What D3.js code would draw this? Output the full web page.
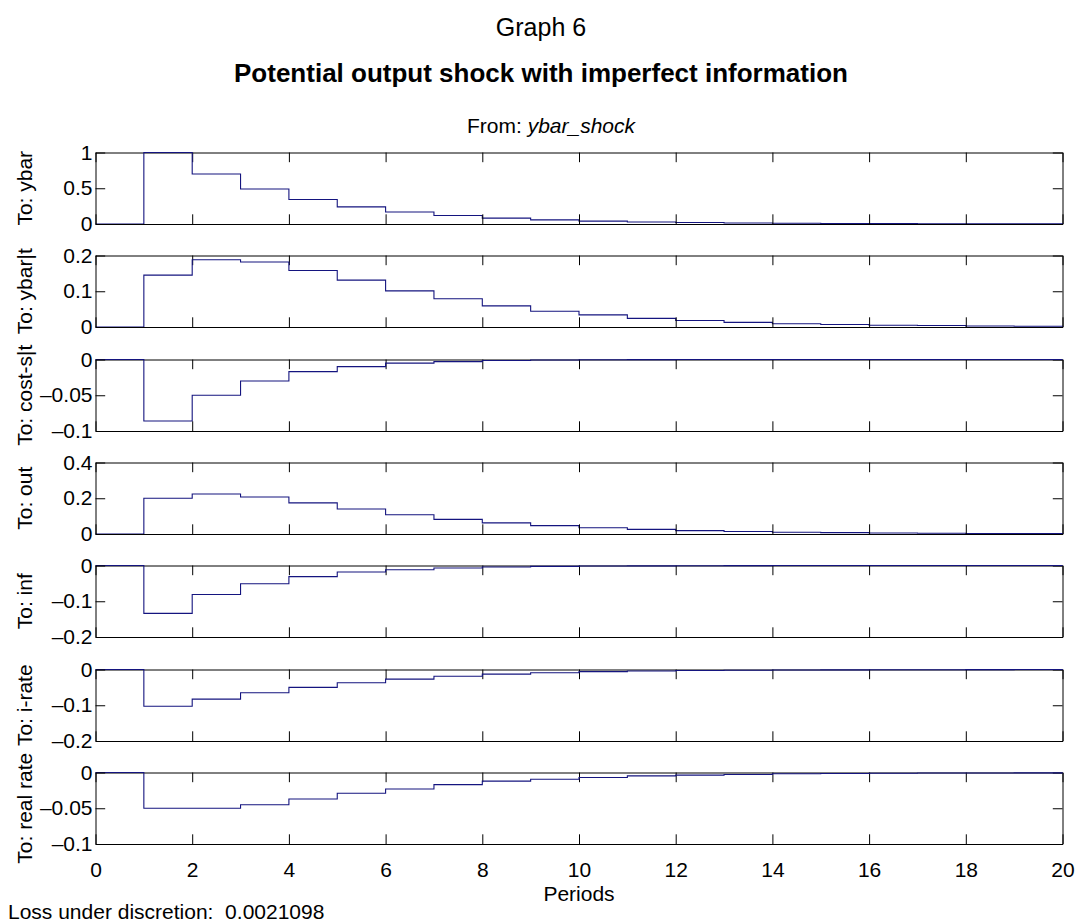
<!DOCTYPE html>
<html>
<head>
<meta charset="utf-8">
<script src="https://cdn.jsdelivr.net/npm/d3@7"></script>
<style>
  html, body { margin: 0; padding: 0; background: #fff; }
  svg { display: block; font-family: Arial, "Liberation Sans", Helvetica, sans-serif; }
</style>
</head>
<body>
<svg id="chart" width="1077" height="922"></svg>
<script>
// Impulse responses to a potential-output shock, periods 0..20
const periods = [0, 1, 2, 3, 4, 5, 6, 7, 8, 9, 10, 11, 12, 13, 14, 15, 16, 17, 18, 19, 20];

const ybar     = [0, 1.000, 0.700, 0.490, 0.343, 0.240, 0.168, 0.118, 0.082, 0.058, 0.040, 0.028, 0.020, 0.014, 0.010, 0.007, 0.005, 0.003, 0.002, 0.002, 0.001];
const ybarT    = [0, 0.145, 0.188, 0.182, 0.158, 0.131, 0.101, 0.079, 0.059, 0.044, 0.034, 0.024, 0.018, 0.013, 0.009, 0.007, 0.005, 0.004, 0.003, 0.002, 0.001];
const costS    = [0, -0.086, -0.050, -0.030, -0.017, -0.010, -0.005, -0.003, -0.0015, -0.0008, -0.0004, -0.0002, -0.0001, 0, 0, 0, 0, 0, 0, 0, 0];
const outGap   = [0, 0.200, 0.224, 0.207, 0.174, 0.140, 0.108, 0.082, 0.062, 0.047, 0.035, 0.026, 0.019, 0.014, 0.010, 0.0075, 0.0055, 0.004, 0.003, 0.002, 0.0015];
const inflation= [0, -0.134, -0.081, -0.051, -0.031, -0.018, -0.012, -0.007, -0.004, -0.0025, -0.0015, -0.001, -0.0006, -0.0003, -0.0002, -0.0001, 0, 0, 0, 0, 0];
const iRate    = [0, -0.103, -0.083, -0.065, -0.050, -0.037, -0.027, -0.019, -0.013, -0.009, -0.006, -0.004, -0.003, -0.002, -0.0013, -0.001, -0.0007, -0.0005, -0.0003, -0.0002, -0.0001];
const realRate = [0, -0.050, -0.050, -0.045, -0.037, -0.029, -0.023, -0.017, -0.012, -0.0095, -0.007, -0.0047, -0.0037, -0.0028, -0.0018, -0.0013, -0.001, -0.0008, -0.0006, -0.0005, -0.0004];

const panelNames  = ["To: ybar", "To: ybar|t", "To: cost-s|t", "To: out", "To: inf", "To: i-rate", "To: real rate"];
const panelSeries = [ybar, ybarT, costS, outGap, inflation, iRate, realRate];
const panelDomains = [[0, 1], [0, 0.2], [-0.1, 0], [0, 0.4], [-0.2, 0], [-0.2, 0], [-0.1, 0]];
const panelTicks  = [[0, 0.5, 1], [0, 0.1, 0.2], [-0.1, -0.05, 0], [0, 0.2, 0.4], [-0.2, -0.1, 0], [-0.2, -0.1, 0], [-0.1, -0.05, 0]];
const xTicks = [0, 2, 4, 6, 8, 10, 12, 14, 16, 18, 20];

const figTitle = "Graph 6";
const mainTitle = "Potential output shock with imperfect information";
const fromLabel = "ybar_shock";
const xLabel = "Periods";
const lossText = "Loss under discretion:  0.0021098";

// Layout
const svg = d3.select("#chart");
const left = 95.5, right = 1062.5;
const firstTop = 152, step = 103.33, panelH = 71.5;
const tickLen = 9.7;
const lineColor = "#14147f";
const fontSize = 21;

const x = d3.scaleLinear().domain([0, 20]).range([left, right]);
const fmt = v => {
  const s = (Math.abs(v) < 1e-12) ? "0" : String(+v.toFixed(4));
  return s.replace("-", "\u2013");
};

// Titles
svg.append("text").attr("x", 541).attr("y", 36).attr("text-anchor", "middle")
  .attr("font-size", 25).text(figTitle);
svg.append("text").attr("x", 541).attr("y", 82).attr("text-anchor", "middle")
  .attr("font-size", 26).attr("font-weight", "bold").text(mainTitle);
const fromT = svg.append("text").attr("x", 551).attr("y", 133)
  .attr("text-anchor", "middle").attr("font-size", fontSize);
fromT.append("tspan").text("From: ");
fromT.append("tspan").attr("font-style", "italic").text(fromLabel);

const stair = d3.line().curve(d3.curveStepAfter);

panelSeries.forEach((vals, i) => {
  const top = Math.round(firstTop + i * step) + 0.5;
  const bottom = top + panelH;
  const y = d3.scaleLinear().domain(panelDomains[i]).range([bottom, top]);
  const g = svg.append("g");
  const isLast = i === panelSeries.length - 1;

  // axes: ticks point inward on all four sides
  const styleAxis = sel => {
    sel.selectAll("path.domain").attr("stroke", "#000").attr("stroke-width", 1);
    sel.selectAll(".tick line").attr("stroke", "#000").attr("stroke-width", 1);
    sel.selectAll(".tick text").attr("font-size", fontSize)
      .attr("font-family", "Arial, 'Liberation Sans', sans-serif").attr("fill", "#000");
  };

  g.append("g").attr("transform", `translate(0,${top})`)
    .call(d3.axisTop(x).tickValues(xTicks).tickSizeInner(-tickLen).tickSizeOuter(0).tickFormat(""))
    .call(styleAxis);
  g.append("g").attr("transform", `translate(${right},0)`)
    .call(d3.axisRight(y).tickValues(panelTicks[i]).tickSizeInner(-tickLen).tickSizeOuter(0).tickFormat(""))
    .call(styleAxis);

  // data line
  g.append("path")
    .datum(periods.map((p, k) => [x(p), y(vals[k])]))
    .attr("d", stair)
    .attr("fill", "none")
    .attr("stroke", lineColor)
    .attr("stroke-width", 1.1);

  const xb = g.append("g").attr("transform", `translate(0,${bottom})`)
    .call(d3.axisBottom(x).tickValues(xTicks).tickSizeInner(-tickLen).tickSizeOuter(0)
      .tickPadding(18).tickFormat(isLast ? d3.format("d") : ""))
    .call(styleAxis);
  xb.selectAll(".tick text").attr("dy", "0.71em");

  g.append("g").attr("transform", `translate(${left},0)`)
    .call(d3.axisLeft(y).tickValues(panelTicks[i]).tickSizeInner(-tickLen).tickSizeOuter(0)
      .tickPadding(3).tickFormat(fmt))
    .call(styleAxis);

  g.append("text")
    .attr("transform", `translate(32,${(top + bottom) / 2}) rotate(-90)`)
    .attr("text-anchor", "middle").attr("font-size", fontSize)
    .text(panelNames[i]);
});

svg.append("text").attr("x", (left + right) / 2).attr("y", 901).attr("text-anchor", "middle")
  .attr("font-size", fontSize).text(xLabel);
svg.append("text").attr("x", 8).attr("y", 919).attr("font-size", fontSize).attr("xml:space", "preserve")
  .style("white-space", "pre").text(lossText);
</script>
</body>
</html>
